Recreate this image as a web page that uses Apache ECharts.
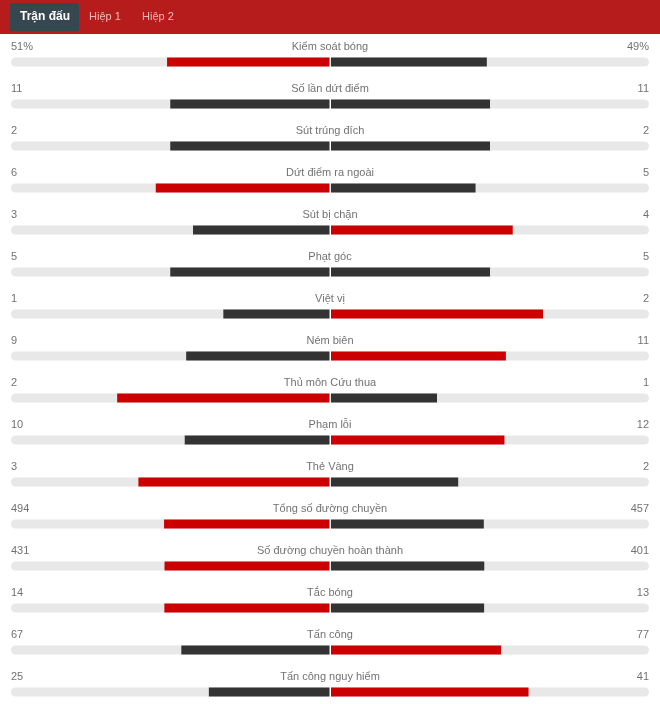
<!DOCTYPE html>
<html>
<head>
<meta charset="utf-8">
<script src="https://cdn.jsdelivr.net/npm/echarts@6/dist/echarts.min.js"></script>
<style>
  html, body { margin: 0; padding: 0; background: #fff; }
  #chart { width: 660px; height: 704px; }
</style>
</head>
<body>
<div id="chart"></div>
<script>
// stats for the match, home on the left, away on the right
const statNames = [
    'Kiểm soát bóng', 'Số lần dứt điểm', 'Sút trúng đích', 'Dứt điểm ra ngoài',
    'Sút bị chặn', 'Phạt góc', 'Việt vị', 'Ném biên', 'Thủ môn Cứu thua',
    'Phạm lỗi', 'Thẻ Vàng', 'Tổng số đường chuyền', 'Số đường chuyền hoàn thành',
    'Tắc bóng', 'Tấn công', 'Tấn công nguy hiểm'
];
const homeValues = [51, 11, 2, 6, 3, 5, 1, 9, 2, 10, 3, 494, 431, 14, 67, 25];
const awayValues = [49, 11, 2, 5, 4, 5, 2, 11, 1, 12, 2, 457, 401, 13, 77, 41];
const valueUnits = ['%', '', '', '', '', '', '', '', '', '', '', '', '', '', '', ''];
const tabNames = ['Trận đấu', 'Hiệp 1', 'Hiệp 2'];

const RED = '#cc0000';
const DARK = '#333333';
const TRACK = '#e8e8e8';
const TEXT = '#4d4d4d';
const FONT = '"Liberation Sans", Arial, sans-serif';

const chart = echarts.init(document.getElementById('chart'));

function barData(own, other) {
    return own.map((v, i) => {
        const total = v + other[i];
        return {
            value: total ? v / total : 0,
            itemStyle: { color: v > other[i] ? RED : DARK }
        };
    });
}

const rowIdx = statNames.map((_, i) => i);
const labelStyle = { color: TEXT, fontSize: 11, fontFamily: FONT };

// rows sit on the ticks (boundaryGap off) so the last row can run to the bottom edge
const option = {
    backgroundColor: '#fff',
    animation: false,
    grid: [
        { left: 11, top: 62, width: 318.5, height: 630 },
        { left: 331, top: 62, width: 318, height: 630 }
    ],
    xAxis: [
        { gridIndex: 0, type: 'value', min: 0, max: 1, inverse: true, show: false },
        { gridIndex: 1, type: 'value', min: 0, max: 1, show: false }
    ],
    yAxis: [
        { gridIndex: 0, type: 'category', data: statNames, inverse: true, boundaryGap: false, show: false },
        { gridIndex: 1, type: 'category', data: statNames, inverse: true, boundaryGap: false, show: false }
    ],
    graphic: [
        { type: 'rect', left: 0, top: 0, shape: { width: 660, height: 34 }, style: { fill: '#b71c1c' }, silent: true },
        { type: 'rect', left: 10, top: 3, shape: { width: 69, height: 28, r: 2 }, style: { fill: '#37474f' }, silent: true },
        { type: 'text', x: 45, y: 17, style: { text: tabNames[0], fill: '#fff', font: 'bold 12px ' + FONT, align: 'center', verticalAlign: 'middle' } },
        { type: 'text', x: 105, y: 17, style: { text: tabNames[1], fill: '#f6b8bd', font: '11px ' + FONT, align: 'center', verticalAlign: 'middle' } },
        { type: 'text', x: 158, y: 17, style: { text: tabNames[2], fill: '#f6b8bd', font: '11px ' + FONT, align: 'center', verticalAlign: 'middle' } }
    ],
    series: [
        {
            type: 'bar', xAxisIndex: 0, yAxisIndex: 0, barWidth: 9, silent: true,
            showBackground: true,
            backgroundStyle: { color: TRACK, borderRadius: [4.5, 0, 0, 4.5] },
            data: barData(homeValues, awayValues)
        },
        {
            type: 'bar', xAxisIndex: 1, yAxisIndex: 1, barWidth: 9, silent: true,
            showBackground: true,
            backgroundStyle: { color: TRACK, borderRadius: [0, 4.5, 4.5, 0] },
            data: barData(awayValues, homeValues)
        },
        {
            // home value, left edge
            type: 'scatter', xAxisIndex: 0, yAxisIndex: 0, symbolSize: 1, silent: true,
            itemStyle: { color: 'transparent' },
            data: rowIdx.map(i => [1, i]),
            label: {
                show: true, position: 'inside', align: 'left', offset: [0, -15], ...labelStyle,
                formatter: p => homeValues[p.dataIndex] + valueUnits[p.dataIndex]
            }
        },
        {
            // stat name, centred
            type: 'scatter', xAxisIndex: 1, yAxisIndex: 1, symbolSize: 1, silent: true,
            itemStyle: { color: 'transparent' },
            data: rowIdx.map(i => [0, i]),
            label: {
                show: true, position: 'inside', align: 'center', offset: [-1, -15], ...labelStyle,
                formatter: p => statNames[p.dataIndex]
            }
        },
        {
            // away value, right edge
            type: 'scatter', xAxisIndex: 1, yAxisIndex: 1, symbolSize: 1, silent: true,
            itemStyle: { color: 'transparent' },
            data: rowIdx.map(i => [1, i]),
            label: {
                show: true, position: 'inside', align: 'right', offset: [0, -15], ...labelStyle,
                formatter: p => awayValues[p.dataIndex] + valueUnits[p.dataIndex]
            }
        }
    ]
};

chart.setOption(option);
</script>
</body>
</html>
